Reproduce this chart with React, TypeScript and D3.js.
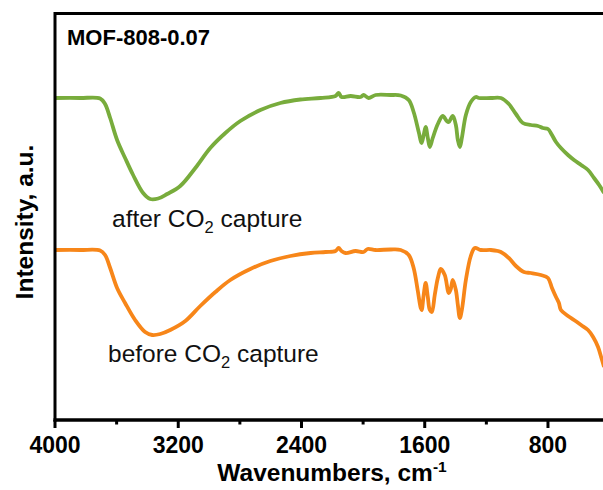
import React from "react";
import * as d3 from "d3";

const W = 603;
const H = 490;

const xTicksMajor = [4000, 3200, 2400, 1600, 800];
const xTicksMinor = [3600, 2800, 2000, 1200, 400];

const afterWn = [4000, 3837, 3707, 3675, 3642, 3597, 3545, 3493, 3428, 3382, 3330, 3272, 3187, 3089, 2992, 2894, 2797, 2667, 2537, 2407, 2276, 2179, 2159, 2140, 2081, 2016, 1997, 1964, 1919, 1821, 1756, 1704, 1672, 1639, 1620, 1607, 1594, 1580, 1567, 1548, 1515, 1483, 1457, 1444, 1418, 1398, 1385, 1372, 1359, 1333, 1301, 1268, 1249, 1171, 1106, 1054, 1008, 963, 911, 865, 833, 800, 774, 748, 716, 670, 631, 585, 540, 501, 468, 436];
const afterI = [322, 322, 321.5, 316, 302, 280, 262, 245, 227, 221, 221.5, 226, 234, 252, 272, 287, 299, 310, 317, 320.5, 322, 324, 327, 323, 324, 323, 325, 322, 325, 325, 324.5, 320, 308, 288, 277, 285, 293, 282, 273, 282, 296, 304, 299, 298, 304, 295, 280, 273, 282, 305, 318, 323, 322, 322, 322, 316, 306, 297, 295, 294, 292, 291, 285, 278, 272, 265, 260, 255, 250, 242, 235, 227];

const beforeWn = [4000, 3837, 3707, 3675, 3642, 3597, 3545, 3480, 3415, 3369, 3317, 3252, 3154, 3057, 2959, 2862, 2732, 2602, 2472, 2341, 2244, 2179, 2159, 2140, 2114, 2049, 1997, 1971, 1919, 1821, 1756, 1704, 1672, 1646, 1626, 1620, 1607, 1594, 1580, 1567, 1554, 1535, 1515, 1496, 1470, 1444, 1431, 1418, 1398, 1385, 1372, 1359, 1333, 1301, 1275, 1236, 1171, 1125, 1106, 1054, 1008, 956, 911, 846, 800, 774, 748, 729, 716, 670, 631, 585, 540, 507, 475, 455, 436];
const beforeI = [170, 170, 169.5, 165, 152, 132, 117, 100, 88, 85, 86, 90, 99, 114, 128, 140, 151, 159, 164, 167, 168, 169, 172, 169, 167, 169, 168, 171, 170, 170.5, 170, 165, 152, 130, 112, 110, 125, 137, 123, 110, 108, 125, 142, 151, 145, 127, 131, 140, 130, 115, 102, 110, 140, 164, 172, 170, 170, 169, 168, 162, 154, 148, 147, 145, 142, 132, 123, 117, 110, 104, 100, 95, 90, 83, 73, 63, 53];

const seriesColors = ["#78ac3c", "#f78619"];

export default function App() {
  const left = 55;
  const top = 13.5;
  const bottom = 420;
  const x = d3.scaleLinear().domain([4000, 400]).range([left, 609.6]);
  const y = d3.scaleLinear().domain([0, 406]).range([bottom, bottom - 406]);

  const line = d3
    .line<[number, number]>()
    .x((d) => x(d[0]))
    .y((d) => y(d[1]))
    .curve(d3.curveCatmullRom.alpha(0.5));

  const after = afterWn.map((w, i) => [w, afterI[i]] as [number, number]);
  const before = beforeWn.map((w, i) => [w, beforeI[i]] as [number, number]);

  const font = "'Liberation Sans', Arial, sans-serif";

  return (
    <svg
      width={W}
      height={H}
      style={{ position: "absolute", left: 0, top: 0, background: "#fff" }}
      fontFamily={font}
    >
      <defs>
        <clipPath id="plotclip">
          <rect x={left} y={0} width={W - left} height={bottom} />
        </clipPath>
      </defs>
      <g clipPath="url(#plotclip)">
        <path d={line(after) || ""} fill="none" stroke={seriesColors[0]} strokeWidth={3.8} strokeLinejoin="round" />
        <path d={line(before) || ""} fill="none" stroke={seriesColors[1]} strokeWidth={3.8} strokeLinejoin="round" />
      </g>
      {/* frame */}
      <line x1={left} x2={W + 10} y1={top} y2={top} stroke="#000" strokeWidth={3} />
      <line x1={left} x2={left} y1={top - 1.5} y2={bottom + 1.5} stroke="#000" strokeWidth={3} />
      <line x1={left - 1.5} x2={W + 10} y1={bottom} y2={bottom} stroke="#000" strokeWidth={3.5} />
      {xTicksMajor.map((t) => (
        <line key={"M" + t} x1={x(t)} x2={x(t)} y1={bottom} y2={bottom + 8} stroke="#000" strokeWidth={3} />
      ))}
      {xTicksMinor.map((t) => (
        <line key={"m" + t} x1={x(t)} x2={x(t)} y1={bottom} y2={bottom + 4.5} stroke="#000" strokeWidth={3} />
      ))}
      {xTicksMajor.map((t) => (
        <text key={"l" + t} x={x(t)} y={453} textAnchor="middle" fontWeight="bold" fontSize={23}>
          {t}
        </text>
      ))}
      <text x={332} y={481} textAnchor="middle" fontWeight="bold" fontSize={24.5}>
        Wavenumbers, cm<tspan dy={-9} fontSize={15.5}>-1</tspan>
      </text>
      <text
        transform={`translate(33, 222) rotate(-90)`}
        textAnchor="middle"
        fontWeight="bold"
        fontSize={24.5}
      >
        Intensity, a.u.
      </text>
      <text x={67} y={45} fontWeight="bold" fontSize={22}>
        MOF-808-0.07
      </text>
      <text x={112} y={227} fontSize={24.5} fill="#111">
        after CO<tspan dy={6} fontSize={16.5}>2</tspan>
        <tspan dy={-6}> capture</tspan>
      </text>
      <text x={108} y={362} fontSize={24.5} fill="#111">
        before CO<tspan dy={6} fontSize={16.5}>2</tspan>
        <tspan dy={-6}> capture</tspan>
      </text>
    </svg>
  );
}
